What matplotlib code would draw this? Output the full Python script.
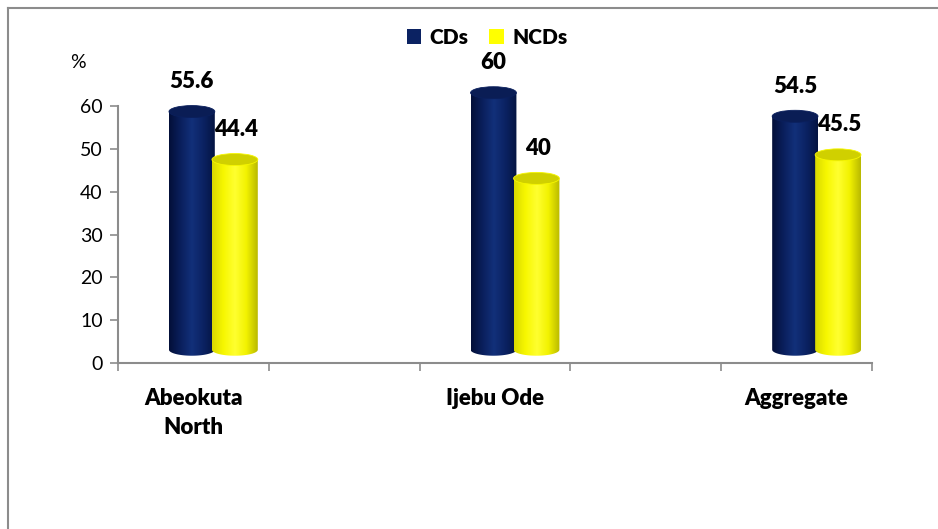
"""
CDs vs NCDs by location, 3D-looking cylinder bars
"""
import numpy as np
import matplotlib
matplotlib.use("Agg")
import matplotlib.pyplot as plt
from matplotlib.patches import Ellipse, Patch, PathPatch
from matplotlib.path import Path
from matplotlib.colors import LinearSegmentedColormap

categories = ["Abeokuta\nNorth", "Ijebu Ode", "Aggregate"]
slots = [0, 2, 4]          # category slots on a 5-slot axis (slots 1 and 3 are empty)
cds = [55.6, 60, 54.5]
ncds = [44.4, 40, 45.5]
cds_labels = ["55.6", "60", "54.5"]
ncds_labels = ["44.4", "40", "45.5"]
yticks = [0, 10, 20, 30, 40, 50, 60]

plt.rcParams['font.family'] = ['Lato', 'DejaVu Sans']

navy_cols = ["#030f38", "#0a1f5c", "#12307a", "#0b2262", "#041442"]
yell_cols = ["#d9d900", "#f7f700", "#ffff30", "#f2f200", "#b8b800"]
navy_top = "#0a1d55"
yell_top = "#d0d000"

ymax = 66   # room above 60 for the tops of the cylinders
ppu = (363 - 106) / 60.0
fig = plt.figure(figsize=(9.38, 5.29), dpi=100)
ax = fig.add_axes([118/938, 1-363/529, (872-118)/938, ymax*ppu/529])

shift = 3.1     # fake 3D floor offset
hw = 0.152      # half width of a cylinder
eh = 2.8        # ellipse height
W = 'heavy'


def cylinder(xc, val, cols, topcol):
    y0 = shift
    y1 = val + shift
    t = np.linspace(np.pi, 2*np.pi, 40)
    bx = xc + hw*np.cos(t)
    by = y0 + eh/2*np.sin(t)
    verts = [(xc-hw, y1)] + list(zip(bx, by)) + [(xc+hw, y1), (xc-hw, y1)]
    codes = [Path.MOVETO] + [Path.LINETO]*(len(verts)-2) + [Path.CLOSEPOLY]
    body = PathPatch(Path(verts, codes), facecolor='none', edgecolor='none')
    ax.add_patch(body)
    grad = np.linspace(0, 1, 256).reshape(1, -1)
    im = ax.imshow(grad, extent=[xc-hw, xc+hw, y0-eh/2, y1], aspect='auto',
                   cmap=LinearSegmentedColormap.from_list("g", cols),
                   origin='lower', zorder=2)
    im.set_clip_path(body)
    top = Ellipse((xc, y1), 2*hw, eh, facecolor=topcol, edgecolor=cols[1],
                  linewidth=0.6, zorder=3)
    ax.add_patch(top)


for i in range(len(categories)):
    c = slots[i] + 0.5
    cylinder(c - 0.01, cds[i], navy_cols, navy_top)
    cylinder(c + 0.275, ncds[i], yell_cols, yell_top)
    ax.annotate(cds_labels[i], (c - 0.01, cds[i] + shift), xytext=(0, 14),
                textcoords='offset points', ha='center', va='bottom',
                fontsize=16, fontweight=W, annotation_clip=False)
    ax.annotate(ncds_labels[i], (c + 0.285, ncds[i] + shift), xytext=(0, 14),
                textcoords='offset points', ha='center', va='bottom',
                fontsize=16, fontweight=W, annotation_clip=False)

ax.set_xlim(0, 5)
ax.set_ylim(0, ymax)
ax.set_yticks(yticks)
ax.set_xticks(range(6))
ax.set_xticklabels([])
ax.set_xticks([s + 0.5 for s in slots], minor=True)
ax.set_xticklabels(categories, minor=True, fontsize=16, fontweight=W,
                   linespacing=1.45)
ax.tick_params(axis='x', which='minor', length=0, pad=18)
ax.tick_params(axis='x', which='major', length=6, color='#8c8c8c', width=1.2)
ax.tick_params(axis='y', length=6, color='#8c8c8c', width=1.2, labelsize=14, pad=5)
for s in ['top', 'right']:
    ax.spines[s].set_visible(False)
for s in ['left', 'bottom']:
    ax.spines[s].set_color('#8c8c8c')
    ax.spines[s].set_linewidth(1.5)
ax.spines['left'].set_bounds(0, 60)

fig.text(78/938, 1-62/529, "%", fontsize=14, ha='center', va='center')

handles = [Patch(facecolor="#0b2262", label="CDs"), Patch(facecolor="#ffff00", label="NCDs")]
fig.legend(handles=handles, loc='center', bbox_to_anchor=(487/938, 1-37/529), ncol=2,
           frameon=False, handlelength=0.7, handleheight=0.7, handletextpad=0.4,
           columnspacing=1.0, prop={'weight': W, 'size': 15})

# chart border (only top and left are visible in the crop)
fig.add_artist(plt.Line2D([8/938, 1], [1-8/529, 1-8/529], color='#8c8c8c', lw=1.5))
fig.add_artist(plt.Line2D([8/938, 8/938], [0, 1-8/529], color='#8c8c8c', lw=1.5))

fig.savefig("out.png", dpi=100)
